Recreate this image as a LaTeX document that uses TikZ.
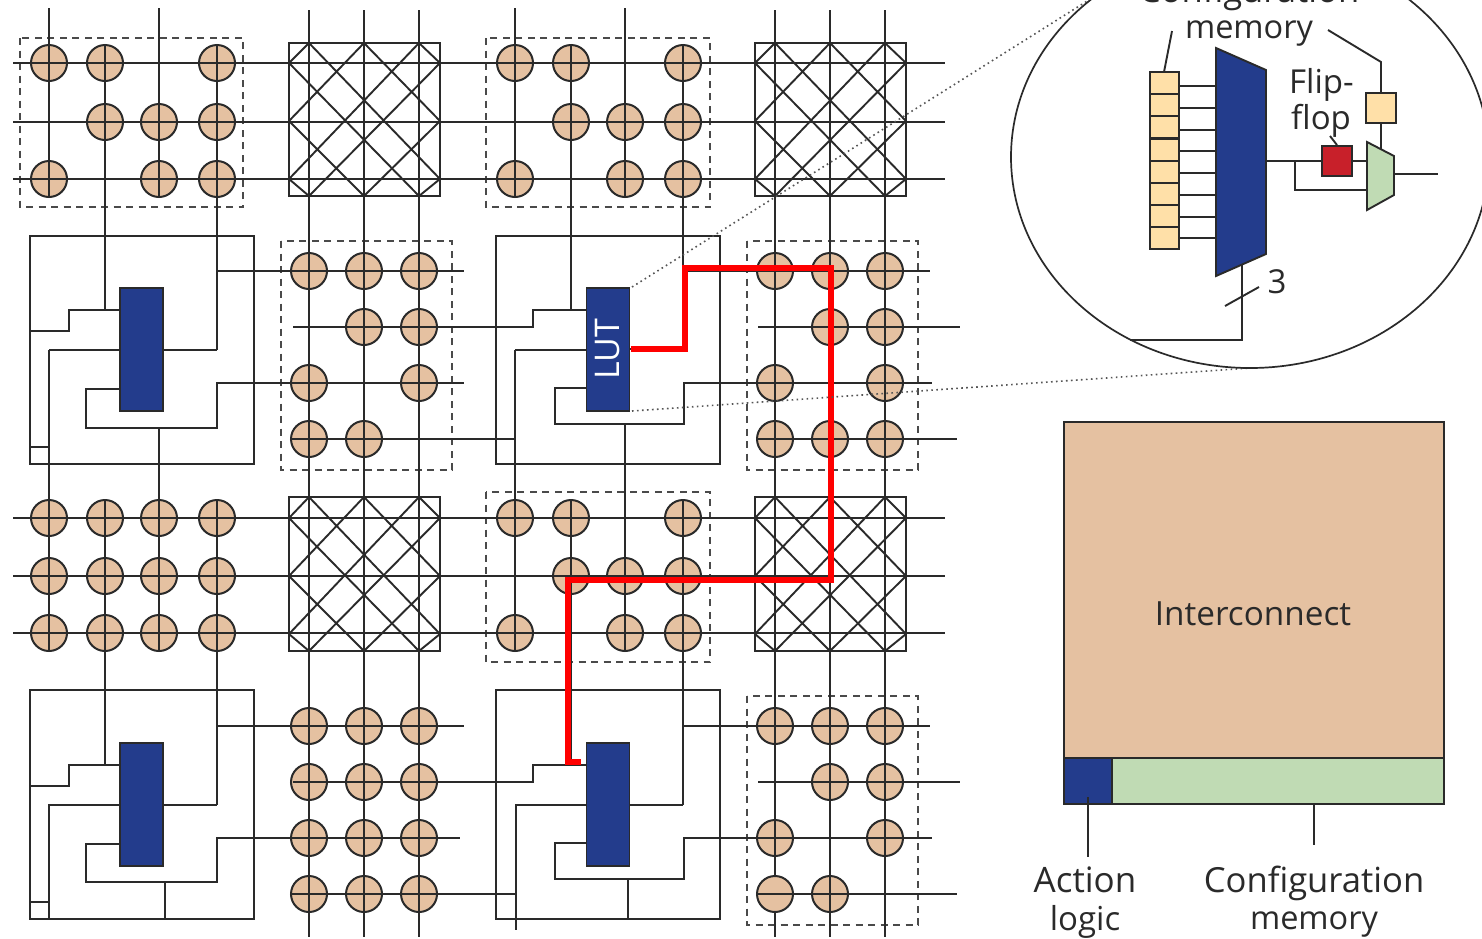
\documentclass[tikz,border=0pt]{standalone}
\usepackage{fontspec}
\setmainfont{Open Sans}
\definecolor{tan}{HTML}{E5C1A1}
\definecolor{lutblue}{HTML}{233C8C}
\definecolor{memgreen}{HTML}{C0DBB4}
\definecolor{cellyellow}{HTML}{FFE0A8}
\definecolor{ffred}{HTML}{C8202A}
\definecolor{ink}{HTML}{2A2A2A}
\tikzset{
  wire/.style={draw=ink,line width=1.9pt,line join=miter},
  thin wire/.style={draw=ink,line width=1.7pt},
  sw/.style={circle,draw=ink,line width=2pt,fill=tan,minimum size=36pt,inner sep=0pt},
  dashbox/.style={draw=ink!85,line width=1.8pt,dash pattern=on 7pt off 5.5pt},
  lutbox/.style={rectangle,draw=ink,line width=1.9pt,fill=lutblue,minimum width=43pt,minimum height=123pt,inner sep=0pt},
  path red/.style={draw=red,line width=6pt,line join=miter},
  leader/.style={draw=ink!80,line width=1.6pt,dash pattern=on 1.6pt off 3.4pt},
  lab/.style={inner sep=0pt,anchor=base,text=ink},
}
\newcommand{\fsz}[1]{\fontsize{#1}{#1}\selectfont}
\newcommand{\xbar}[8]{% left right top bottom, three columns, first row
  \draw[wire] (#1,#3) rectangle (#2,#4);
  \def\ra{#8}\pgfmathsetmacro\rb{#8+58}\pgfmathsetmacro\rc{#8+116}
  \draw[wire] (#5,#3)--(#1,\ra) (#6,#3)--(#1,\rb) (#7,#3)--(#1,\rc)
    (#2,\ra)--(#5,#4) (#2,\rb)--(#6,#4) (#2,\rc)--(#7,#4)
    (#5,#3)--(#2,\rc) (#6,#3)--(#2,\rb) (#7,#3)--(#2,\ra)
    (#1,\ra)--(#7,#4) (#1,\rb)--(#6,#4) (#1,\rc)--(#5,#4);
}
\begin{document}
\begin{tikzpicture}[x=1pt,y=-1pt]
\clip (0,0) rectangle (1482,938);
\fill[white] (0,0) rectangle (1482,938);

% switch points
\foreach \x/\y in {49/63,105/63,217/63,105/122,159/122,217/122,49/179,159/179,217/179,
  515/63,571/63,683/63,571/122,625/122,683/122,515/179,625/179,683/179,
  309/271,364/271,419/271,364/327,419/327,309/383,419/383,309/439,364/439,
  775/271,830/271,885/271,830/327,885/327,775/383,885/383,775/439,830/439,885/439,
  49/518,105/518,159/518,217/518,49/576,105/576,159/576,217/576,49/633,105/633,159/633,217/633,
  515/518,571/518,683/518,571/576,625/576,683/576,515/633,625/633,683/633,
  309/726,364/726,419/726,309/782,364/782,419/782,309/838,364/838,419/838,309/894,364/894,419/894,
  775/726,830/726,885/726,830/782,885/782,775/838,885/838,775/894,830/894}
  \node[sw] (s-\x-\y) at (\x,\y) {};

% dashed switch-box frames
\draw[dashbox] (20,38) rectangle (243,207);
\draw[dashbox] (486,38) rectangle (710,207);
\draw[dashbox] (281,241) rectangle (452,470);
\draw[dashbox] (747,241) rectangle (918,470);
\draw[dashbox] (486,492) rectangle (710,662);
\draw[dashbox] (747,696) rectangle (918,925);

% long horizontal tracks
\foreach \y in {63,122,179,518,576,633} \draw[wire] (13,\y)--(945,\y);
% long vertical tracks
\foreach \x in {309,364,419,830,885} \draw[wire] (\x,10)--(\x,937);
\draw[wire] (775,10)--(775,876) (775,912)--(775,937);
% top row verticals
\draw[wire] (49,8)--(49,197) (159,8)--(159,197) (105,45)--(105,310) (217,45)--(217,350);
\draw[wire] (515,8)--(515,197) (625,8)--(625,197) (571,45)--(571,310) (683,45)--(683,349);
% third row verticals
\draw[wire] (105,500)--(105,765) (217,500)--(217,805) (159,428)--(159,651) (49,350)--(49,651);
\draw[wire] (571,500)--(571,765) (683,500)--(683,805) (625,424)--(625,651) (515,350)--(515,651);

% cross-bars
\xbar{289}{440}{43}{196}{309}{364}{419}{63}
\xbar{755}{906}{43}{196}{775}{830}{885}{63}
\xbar{289}{440}{497}{651}{309}{364}{419}{518}
\xbar{755}{906}{497}{651}{775}{830}{885}{518}

% logic blocks
\draw[wire] (30,236) rectangle (254,464);
\draw[wire] (496,236) rectangle (720,464);
\draw[wire] (30,690) rectangle (254,919);
\draw[wire] (496,690) rectangle (720,919);
\node[lutbox] (lut-a) at (141.5,349.5) {};
\node[lutbox] (lut-b) at (608,349.5) {\rotatebox{90}{\textcolor{white}{\fsz{34}LUT}}};
\node[lutbox] (lut-c) at (141.5,804.5) {};
\node[lutbox] (lut-d) at (608,804.5) {};

% wiring: upper-left block
\draw[wire] (120,310)-|(69,331)-|(30,331);
\draw[wire] (120,350)--(49,350);
\draw[wire] (120,389)-|(86,428)--(217,428)|-(464,383);
\draw[wire] (30,447)--(49,447);
\draw[wire] (163,350)--(217,350);
\draw[wire] (217,271)--(464,271);
% wiring: upper-right block
\draw[wire] (586,310)-|(533,327)--(293,327);
\draw[wire] (586,350)--(515,350);
\draw[wire] (586,388)-|(555,424)--(684,424)|-(932,383);
\draw[wire] (630,349)--(683,349);
\draw[wire] (683,271)--(930,271);
\draw[wire] (291,439)--(515,439);
\draw[wire] (758,327)--(960,327);
\draw[wire] (757,439)--(957,439);
% wiring: lower-left block
\draw[wire] (120,765)-|(69,786)-|(30,786);
\draw[wire] (120,805)-|(49,919);
\draw[wire] (120,844)-|(86,882)--(217,882)|-(460,838);
\draw[wire] (165,882)--(165,919);
\draw[wire] (30,902)--(49,902);
\draw[wire] (163,805)--(217,805);
\draw[wire] (217,726)--(464,726);
% wiring: lower-right block
\draw[wire] (586,765)-|(533,782)--(293,782);
\draw[wire] (586,805)-|(516,930);
\draw[wire] (586,843)-|(555,879)--(684,879)|-(932,838);
\draw[wire] (628,879)--(628,919);
\draw[wire] (630,805)--(683,805);
\draw[wire] (683,726)--(930,726);
\draw[wire] (291,894)--(516,894);
\draw[wire] (758,782)--(960,782);
\draw[wire] (757,894)--(957,894);

% highlighted route
\draw[path red] (631,349)--(684.5,349)--(684.5,268)--(830.5,268)--(830.5,580)--(567.5,580)--(567.5,762)--(581,762);

% zoom guides
\draw[leader] (632,287)--(1092,-2);
\draw[leader] (632,411)--(1250,368);

% magnified view
\draw[thin wire] (1250,157) ellipse [x radius=239,y radius=211];
\foreach \y in {86,108,130,151,173,195,217,238} \draw[wire] (1179,\y)--(1216,\y);
\foreach \t in {72,94,116,139,161,183,205,227}
  \draw[wire,fill=cellyellow] (1150,\t) rectangle (1179,\t+22);
\draw[wire,fill=lutblue] (1216,48)--(1266,70)--(1266,254)--(1216,276)--cycle;
\draw[wire] (1266,161)--(1367,161);
\draw[wire] (1295,161)|-(1367,190);
\node[rectangle,draw=ink,line width=1.9pt,fill=ffred,minimum size=30pt,inner sep=0pt] (ff) at (1337,161) {};
\draw[wire] (1328,30)--(1381,62)--(1381,150);
\node[rectangle,draw=ink,line width=1.9pt,fill=cellyellow,minimum size=30pt,inner sep=0pt] (ffcfg) at (1381,108) {};
\draw[wire,fill=memgreen] (1367,142)--(1394,156)--(1394,195)--(1367,210)--cycle;
\draw[wire] (1394,174)--(1438,174);
\draw[wire] (1172,31)--(1164,72);
\draw[wire] (1330,136)--(ff.north);
\draw[wire] (1242,265)--(1242,340)--(1130,340);
\draw[wire] (1225,306)--(1259,287);
\node[lab] (three) at (1277,293) {\fsz{33}3};
\node[lab] (cfgtop) at (1249,2) {\fsz{34.6}Configuration};
\node[lab] (memtop) at (1249,38) {\fsz{32.5}memory};
\node[lab,anchor=base west] (flip) at (1289,93) {\fsz{33}Flip-};
\node[lab,anchor=base west] (flop) at (1291,129) {\fsz{33}flop};

% area legend
\draw[wire,fill=tan] (1064,422) rectangle (1444,758);
\draw[wire,fill=memgreen] (1112,758) rectangle (1444,804);
\draw[wire,fill=lutblue] (1064,758) rectangle (1112,804);
\node[lab] (ic) at (1253,625) {\fsz{33.3}Interconnect};
\draw[wire] (1088,797)--(1088,857);
\draw[wire] (1314,804)--(1314,845);
\node[lab] (act1) at (1085,892) {\fsz{35}Action};
\node[lab] (act2) at (1085,930) {\fsz{33}logic};
\node[lab] (cfg1) at (1314,892) {\fsz{34.6}Configuration};
\node[lab] (cfg2) at (1314,929) {\fsz{32.5}memory};
\end{tikzpicture}
\end{document}
